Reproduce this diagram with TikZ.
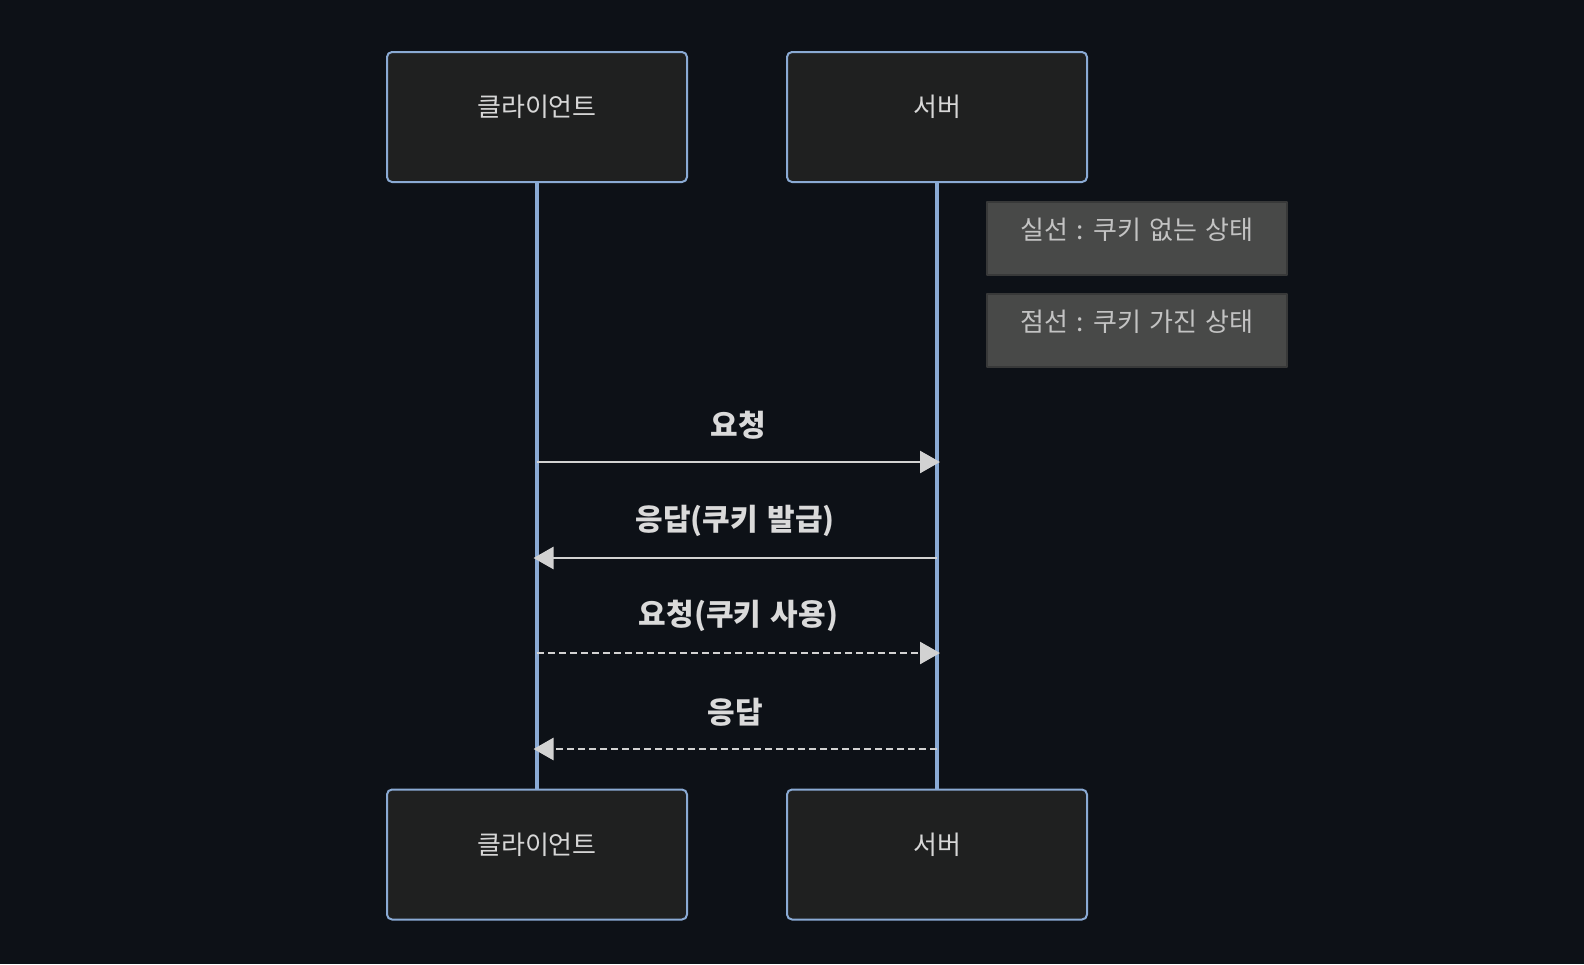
\documentclass[tikz,border=0pt]{standalone}
\usepackage{fontspec}
\setmainfont{Noto Sans CJK KR}
\newfontfamily\notefont[WordSpace=1.7]{Noto Sans CJK KR}
\newfontfamily\labelfont[WordSpace=1.4]{Noto Sans CJK KR}
\usetikzlibrary{arrows.meta}
\definecolor{bgdark}{RGB}{13,17,23}
\definecolor{actorfill}{RGB}{31,32,32}
\definecolor{actorline}{RGB}{138,170,212}
\definecolor{actortext}{RGB}{215,215,215}
\definecolor{notefill}{RGB}{72,73,72}
\definecolor{noteline}{RGB}{56,57,57}
\definecolor{notetext}{RGB}{195,195,195}
\definecolor{msgline}{RGB}{210,210,210}
\definecolor{msgtext}{RGB}{218,218,218}
\begin{document}
\begin{tikzpicture}[x=.5pt,y=-.5pt,line join=round,
  actor/.style={draw=actorline,line width=1pt,fill=actorfill,rounded corners=2.5pt,
    minimum width=150pt,minimum height=65pt,inner sep=0pt,text=actortext,
    font=\fontsize{13}{15}\selectfont,text height=8pt,text depth=8.5pt},
  note/.style={draw=noteline,line width=1pt,fill=notefill,
    minimum width=150pt,minimum height=36.5pt,inner sep=0pt,text=notetext,
    font=\notefont\fontsize{13}{15}\selectfont,text height=9pt,text depth=7.6pt},
  life/.style={actorline,line width=1.6pt},
  msg/.style={msgline,line width=1.3pt,-{Triangle[length=10pt,width=11pt]}},
  dotmsg/.style={msg,dash pattern=on 3.4pt off 2.1pt},
  msglabel/.style={midway,yshift=18.5pt,text=msgtext,font=\labelfont\fontsize{15}{17}\selectfont\bfseries}]
\fill[bgdark] (0,0) rectangle (1584,964);
\useasboundingbox (0,0) rectangle (1584,964);
% participants
\node[actor] (clTop) at (537,117) {클라이언트};
\node[actor] (svTop) at (937,117) {서버};
\node[actor] (clBot) at (537,854.5) {클라이언트};
\node[actor] (svBot) at (937,854.5) {서버};
\draw[life] (clTop.south)--(clBot.north) (svTop.south)--(svBot.north);
% notes
\node[note] (noteA) at (1137,238) {실선 : 쿠키 없는 상태};
\node[note] (noteB) at (1137,330) {점선 : 쿠키 가진 상태};
% message ends
\path
(537,462)coordinate(c1) (940,462)coordinate(s1)
(937,558)coordinate(s2) (533.5,558)coordinate(c2)
(537,653)coordinate(c3) (940,653)coordinate(s3)
(937,749)coordinate(s4) (533.5,749)coordinate(c4);
\draw[msg] (c1)--node[msglabel]{요청}(s1);
\draw[msg] (s2)--node[msglabel]{응답(쿠키 발급)}(c2);
\draw[dotmsg] (c3)--node[msglabel]{요청(쿠키 사용)}(s3);
\draw[dotmsg] (s4)--node[msglabel]{응답}(c4);
\end{tikzpicture}
\end{document}
